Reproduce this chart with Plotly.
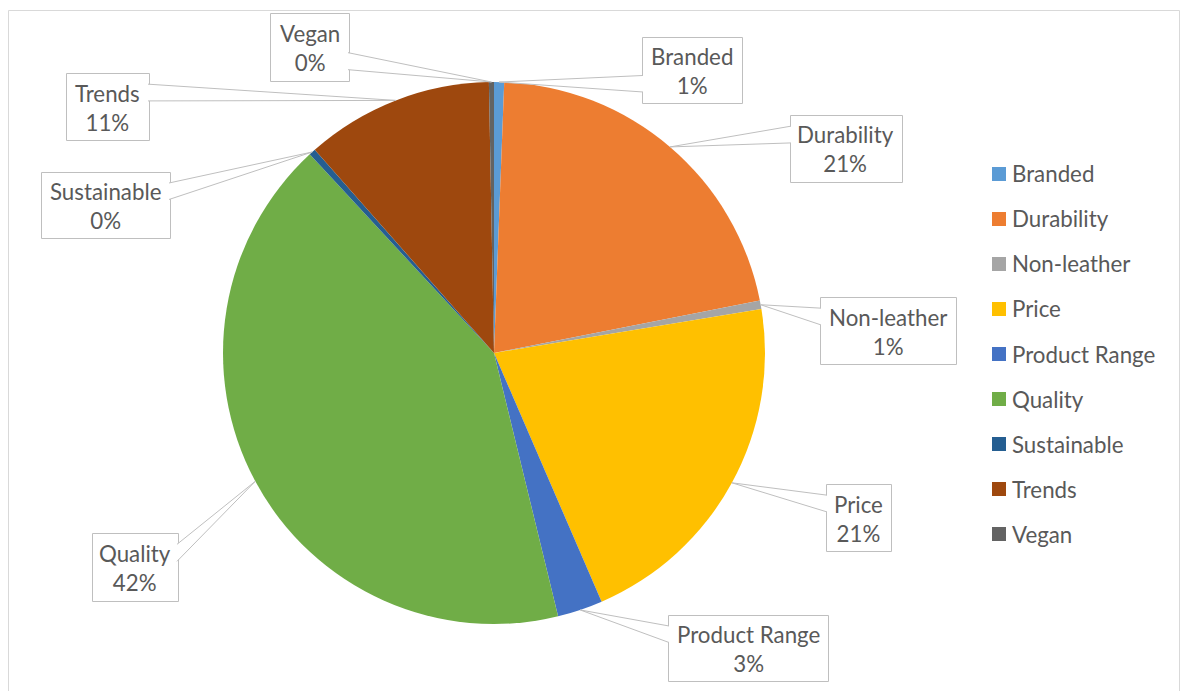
import math
import plotly.graph_objects as go

# Share of respondents naming each factor (%)
labels = ["Branded", "Durability", "Non-leather", "Price", "Product Range",
          "Quality", "Sustainable", "Trends", "Vegan"]
shares = [0.6, 21.3, 0.5, 21.1, 2.7, 41.9, 0.4, 11.2, 0.3]
colors = ["#5B9BD5", "#ED7D31", "#A5A5A5", "#FFC000", "#4472C4",
          "#70AD47", "#255E91", "#9E480E", "#636363"]

W, H = 1181, 691
FONT = "Lato"
FSIZE = 22.3
TXT = "#595959"
EDGE = "#BFBFBF"

# pie placement (pixels)
CX, CY, R = 494, 353, 271

# callout boxes (pixel rectangles x0, y0, x1, y1)
boxes = {
    "Branded": (642, 37, 742, 103),
    "Durability": (790, 115, 902, 182),
    "Non-leather": (820, 297, 956, 364),
    "Price": (826, 484, 891, 551),
    "Product Range": (668, 615, 828, 681),
    "Quality": (92, 533, 178, 601),
    "Sustainable": (41, 172, 170, 238),
    "Trends": (66, 73, 149, 140),
    "Vegan": (270, 13, 349, 81),
}


def px(x):
    return x / W


def py(y):
    return 1 - y / H


fig = go.Figure(go.Pie(
    labels=labels, values=shares, sort=False, direction="clockwise",
    rotation=0, textinfo="none", hoverinfo="label+percent",
    marker=dict(colors=colors, line=dict(width=0)),
    domain=dict(x=[px(CX - R), px(CX + R)], y=[py(CY + R), py(CY - R)]),
    showlegend=False,
))

shapes = []
annotations = []

# chart-area border
shapes.append(dict(type="rect", xref="paper", yref="paper",
                   x0=px(8.5), x1=px(1179.5), y0=py(705), y1=py(10.5),
                   line=dict(color="#D9D9D9", width=1), fillcolor="rgba(0,0,0,0)",
                   layer="below"))

total = sum(shares)
cum = 0.0
for name, v in zip(labels, shares):
    mid = (cum + v / 2) / total * 2 * math.pi
    cum += v
    tx = CX + R * math.sin(mid)
    ty = CY - R * math.cos(mid)
    x0, y0, x1, y1 = boxes[name]
    w, h = x1 - x0, y1 - y0
    bcx, bcy = (x0 + x1) / 2, (y0 + y1) / 2
    dx, dy = tx - bcx, ty - bcy
    # wedge base on the box side facing the anchor point
    if abs(dy) > abs(dx * h / w):
        g1, g2 = (7, 10) if dx > 0 else (2, 5)
        ex = y1 if dy > 0 else y0
        inward = -1 if dy > 0 else 1
        b1 = (x0 + w * g1 / 12, ex + inward)
        b2 = (x0 + w * g2 / 12, ex + inward)
    else:
        g1, g2 = (7, 10) if dy > 0 else (2, 5)
        ex = x1 if dx > 0 else x0
        inward = -1 if dx > 0 else 1
        b1 = (ex + inward, y0 + h * g1 / 12)
        b2 = (ex + inward, y0 + h * g2 / 12)

    shapes.append(dict(type="rect", xref="paper", yref="paper",
                       x0=px(x0 + 0.5), x1=px(x1 + 0.5),
                       y0=py(y1 + 0.5), y1=py(y0 + 0.5),
                       line=dict(color=EDGE, width=1), fillcolor="white"))
    path = "M {:.5f},{:.5f} L {:.5f},{:.5f} L {:.5f},{:.5f}".format(
        px(b1[0]), py(b1[1]), px(tx), py(ty), px(b2[0]), py(b2[1]))
    shapes.append(dict(type="path", xref="paper", yref="paper", path=path,
                       line=dict(color=EDGE, width=1), fillcolor="white"))

    pct = int(v / total * 100 + 0.5)
    annotations.append(dict(xref="paper", yref="paper", x=px(bcx), y=py(bcy + 1),
                            xanchor="center", yanchor="middle", showarrow=False,
                            text=f"{name}<br>{pct}%", align="center",
                            font=dict(family=FONT, size=FSIZE, color=TXT)))

# legend drawn as swatches and labels
for i, (name, c) in enumerate(zip(labels, colors)):
    yc = 174 + 45 * i
    shapes.append(dict(type="rect", xref="paper", yref="paper",
                       x0=px(992), x1=px(1006), y0=py(yc + 7), y1=py(yc - 7),
                       line=dict(width=0), fillcolor=c))
    annotations.append(dict(xref="paper", yref="paper", x=px(1010), y=py(yc),
                            xanchor="left", yanchor="middle", showarrow=False,
                            text=name, font=dict(family=FONT, size=FSIZE, color=TXT)))

fig.update_layout(
    width=W, height=H, margin=dict(l=0, r=0, t=0, b=0),
    paper_bgcolor="white", plot_bgcolor="white",
    shapes=shapes, annotations=annotations,
)

fig.write_html("out.html")
